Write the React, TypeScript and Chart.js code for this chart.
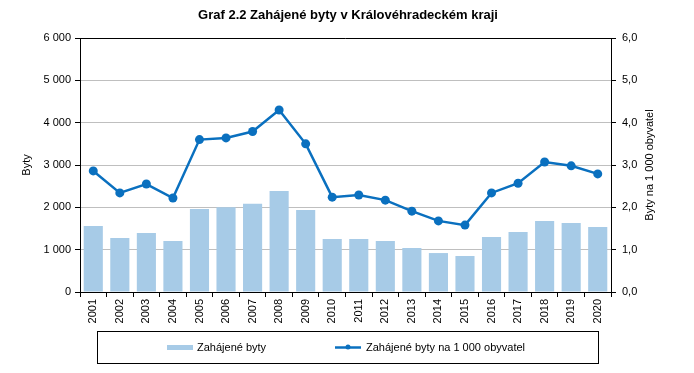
import React, { useEffect, useRef } from "react";
import { Chart, registerables } from "chart.js";

Chart.register(...registerables);

const years = ["2001", "2002", "2003", "2004", "2005", "2006", "2007", "2008", "2009", "2010", "2011", "2012", "2013", "2014", "2015", "2016", "2017", "2018", "2019", "2020"];
const startedDwellings = [1560, 1275, 1395, 1205, 1960, 2000, 2085, 2385, 1935, 1250, 1250, 1205, 1040, 920, 850, 1300, 1415, 1675, 1630, 1535];
const perThousand = [2.86, 2.34, 2.55, 2.22, 3.6, 3.64, 3.79, 4.3, 3.5, 2.24, 2.29, 2.17, 1.91, 1.68, 1.58, 2.34, 2.57, 3.07, 2.98, 2.79];

const titleText = "Graf 2.2 Zahájené byty v Královéhradeckém kraji";
const leftTitle = "Byty";
const rightTitle = "Byty na 1 000 obyvatel";
const barLabel = "Zahájené byty";
const lineLabel = "Zahájené byty na 1 000 obyvatel";

const BAR_COLOR = "#a7cbe7";
const LINE_COLOR = "#0a70bf";
const FONT = "'Liberation Sans', Arial, sans-serif";

const decorPlugin = {
  id: "decor",
  afterDraw(chart: any) {
    const { ctx, chartArea } = chart;
    ctx.save();
    // top border
    ctx.strokeStyle = "#000";
    ctx.lineWidth = 1;
    ctx.beginPath();
    ctx.moveTo(chartArea.left, Math.round(chartArea.top) + 0.5);
    ctx.lineTo(chartArea.right, Math.round(chartArea.top) + 0.5);
    ctx.stroke();

    // title
    ctx.fillStyle = "#000";
    ctx.font = `bold 13px ${FONT}`;
    ctx.textAlign = "center";
    ctx.textBaseline = "middle";
    ctx.fillText(titleText, 348, 15);

    // axis titles
    ctx.font = `11px ${FONT}`;
    const midY = (chartArea.top + chartArea.bottom) / 2;
    ctx.save();
    ctx.translate(27, midY);
    ctx.rotate(-Math.PI / 2);
    ctx.fillText(leftTitle, 0, 0);
    ctx.restore();
    ctx.save();
    ctx.translate(650, midY);
    ctx.rotate(-Math.PI / 2);
    ctx.fillText(rightTitle, 0, 0);
    ctx.restore();

    // legend
    ctx.strokeStyle = "#000";
    ctx.lineWidth = 1;
    ctx.strokeRect(97.5, 331.5, 501, 32);
    ctx.fillStyle = BAR_COLOR;
    ctx.fillRect(167, 345, 26, 5);
    ctx.fillStyle = "#000";
    ctx.textAlign = "left";
    ctx.textBaseline = "middle";
    ctx.fillText(barLabel, 197, 347.5);
    ctx.strokeStyle = LINE_COLOR;
    ctx.lineWidth = 2.5;
    ctx.beginPath();
    ctx.moveTo(335, 347.5);
    ctx.lineTo(361, 347.5);
    ctx.stroke();
    ctx.fillStyle = LINE_COLOR;
    ctx.beginPath();
    ctx.arc(348, 347, 2.5, 0, Math.PI * 2);
    ctx.fill();
    ctx.fillStyle = "#000";
    ctx.fillText(lineLabel, 366, 347.5);
    ctx.restore();
  },
};

export default function App() {
  const ref = useRef<HTMLCanvasElement>(null);
  useEffect(() => {
    if (!ref.current) return;
    const tickFont = { family: FONT, size: 11 };
    const chart = new Chart(ref.current, {
      type: "bar",
      data: {
        labels: years,
        datasets: [
          {
            type: "line",
            label: lineLabel,
            data: perThousand,
            yAxisID: "y1",
            borderColor: LINE_COLOR,
            backgroundColor: LINE_COLOR,
            borderWidth: 2.5,
            pointRadius: 4.5,
            pointHoverRadius: 4.5,
            pointBackgroundColor: LINE_COLOR,
            pointBorderWidth: 0,
            tension: 0,
            order: 0,
          } as any,
          {
            type: "bar",
            label: barLabel,
            data: startedDwellings,
            yAxisID: "y",
            backgroundColor: BAR_COLOR,
            barPercentage: 0.72,
            categoryPercentage: 1,
            order: 1,
          },
        ],
      },
      options: {
        responsive: false,
        animation: false,
        layout: { padding: { top: 38, bottom: 47, left: 0, right: 0 } },
        plugins: { legend: { display: false }, title: { display: false }, tooltip: { enabled: false } },
        scales: {
          x: {
            grid: { offset: true, drawOnChartArea: false, tickLength: 5, tickColor: "#000" },
            border: { color: "#000" },
            ticks: { minRotation: 90, maxRotation: 90, autoSkip: false, color: "#000", font: tickFont, padding: 2 },
            afterFit: (s: any) => {
              s.height = 34;
            },
          },
          y: {
            position: "left",
            min: 0,
            max: 6000,
            ticks: {
              stepSize: 1000,
              color: "#000",
              font: tickFont,
              padding: 4,
              callback: (v: any) => (v >= 1000 ? `${Math.floor(v / 1000)} ${String(v % 1000).padStart(3, "0")}` : String(v)),
            },
            grid: { color: "#bfbfbf", tickColor: "#000", tickLength: 5 },
            border: { color: "#000" },
            afterFit: (s: any) => {
              s.width = 80;
            },
          },
          y1: {
            position: "right",
            min: 0,
            max: 6,
            ticks: {
              stepSize: 1,
              color: "#000",
              font: tickFont,
              padding: 6,
              callback: (v: any) => Number(v).toFixed(1).replace(".", ","),
            },
            grid: { drawOnChartArea: false, tickColor: "#000", tickLength: 5 },
            border: { color: "#000" },
            afterFit: (s: any) => {
              s.width = 83;
            },
          },
        },
      },
      plugins: [decorPlugin],
    });
    return () => chart.destroy();
  }, []);
  return (
    <div style={{ position: "absolute", left: 0, top: 0, width: 694, height: 373, background: "#fff" }}>
      <canvas ref={ref} width={694} height={373} style={{ width: 694, height: 373 }} />
    </div>
  );
}
